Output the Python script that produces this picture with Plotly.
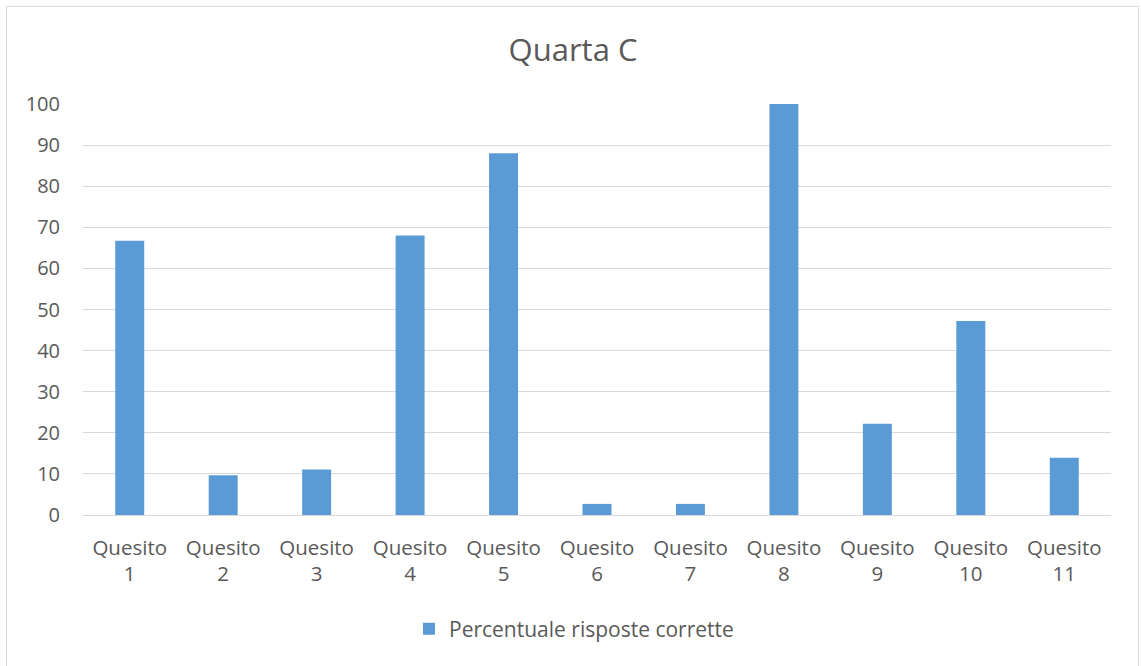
import plotly.graph_objects as go

categories = ["Quesito<br>1", "Quesito<br>2", "Quesito<br>3", "Quesito<br>4", "Quesito<br>5",
              "Quesito<br>6", "Quesito<br>7", "Quesito<br>8", "Quesito<br>9", "Quesito<br>10",
              "Quesito<br>11"]
values = [66.7, 9.7, 11.1, 68.0, 88.0, 2.7, 2.7, 100.0, 22.2, 47.2, 13.9]
series_name = "Percentuale risposte corrette"
title_text = "Quarta C"
y_ticks = [0, 10, 20, 30, 40, 50, 60, 70, 80, 90, 100]

W, H = 1141, 666
L, R, T, B = 83, 1111, 104, 515  # plot area in pixels
pw, ph = R - L, B - T

def px_x(p):
    return (p - L) / pw

def px_y(p):
    return (B - p) / ph

FONT = "Open Sans"
TXT = "#595959"

fig = go.Figure()
fig.add_trace(go.Bar(
    x=categories, y=values, name=series_name,
    marker=dict(color="#5b9bd5", line=dict(width=0)),
    width=0.31, showlegend=True,
))

fig.update_layout(
    width=W, height=H,
    margin=dict(l=L, r=W - R, t=T, b=H - B, pad=0),
    paper_bgcolor="white", plot_bgcolor="white",
    font=dict(family=FONT, color=TXT, size=20),
    title=dict(text=title_text, x=px_x(573), xref="paper", xanchor="center",
               y=1 - 50 / H, yref="container", yanchor="middle",
               font=dict(size=31, color=TXT, family=FONT)),
    showlegend=True,
    legend=dict(orientation="h", x=px_x(574), xanchor="center",
                y=px_y(629), yanchor="middle",
                font=dict(size=21, color=TXT, family=FONT),
                itemwidth=30, bgcolor="rgba(0,0,0,0)"),
    bargap=0.69,
    shapes=[dict(type="rect", xref="paper", yref="paper",
                 x0=px_x(6.5), x1=px_x(1138.5), y0=px_y(700), y1=px_y(6.5),
                 line=dict(color="#d9d9d9", width=1), fillcolor="rgba(0,0,0,0)",
                 layer="below")],
)

fig.update_xaxes(showgrid=False, showline=True, linecolor="#d9d9d9", linewidth=1,
                 ticks="", tickfont=dict(size=20.5, color=TXT, family=FONT),
                 ticklabelstandoff=14, zeroline=False)
fig.update_yaxes(range=[0, 100], tickvals=y_ticks, showgrid=True, gridcolor="#d9d9d9",
                 gridwidth=1, zeroline=False, showline=False, ticks="",
                 tickfont=dict(size=20, color=TXT, family=FONT),
                 ticklabelstandoff=22)

fig.write_html("out.html")
